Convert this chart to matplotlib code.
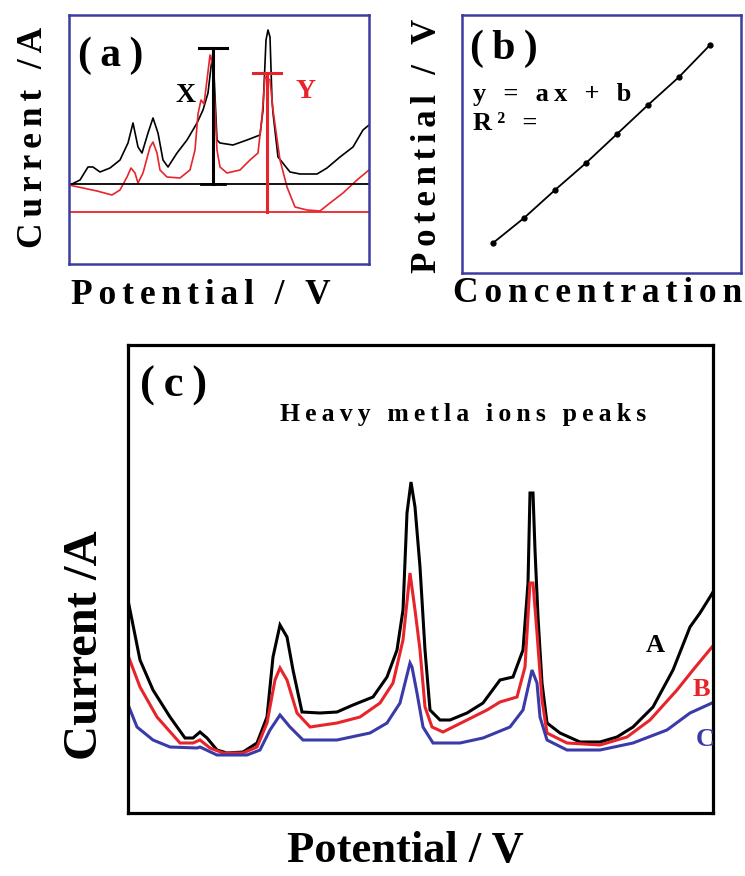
import matplotlib
matplotlib.use('Agg')
import matplotlib.pyplot as plt

# ---------------- data ----------------
# panel (a): two voltammograms, baselines and peak-height markers
a_black_x = [3, 11, 19, 24, 31, 41, 51, 59, 64, 69, 73, 79, 84, 89, 94, 99, 108, 118, 128, 134, 139, 142, 144,
             148, 151, 164, 178, 191, 194, 197, 199, 201, 203, 204, 209, 221, 231, 248, 258, 271, 284, 294, 300]
a_black_y = [80, 84, 97, 97, 92, 96, 104, 121, 141, 117, 111, 131, 146, 131, 104, 97, 111, 124, 141, 154, 171, 197, 212,
             124, 121, 119, 124, 129, 154, 224, 234, 227, 164, 151, 107, 92, 90, 90, 96, 107, 117, 134, 139]
a_red_x = [0, 14, 28, 43, 51, 58, 62, 66, 69, 74, 81, 84, 88, 91, 98, 111, 121, 126, 129, 132, 135, 138, 141, 144,
           148, 151, 158, 171, 181, 189, 193, 196, 201, 204, 211, 218, 226, 238, 251, 261, 274, 288, 300]
a_red_y = [79, 76, 73, 69, 74, 87, 96, 91, 81, 91, 117, 122, 111, 94, 87, 86, 94, 114, 150, 164, 160, 184, 209, 197,
           114, 97, 91, 94, 104, 111, 147, 187, 184, 154, 104, 77, 57, 54, 53, 61, 71, 84, 94]
a_baselines = [80, 52]          # black, red
a_peak_x = [144, 198]           # X (black), Y (red)
a_peak_top = [216, 191]

# panel (b): calibration
b_conc = [1, 2, 3, 4, 5, 6, 7, 8]
b_pot = [30, 55, 83, 110, 139, 168, 196, 228]

# panel (c): curves A, B, C
cA_x = [1, 12, 25, 42, 57, 65, 72, 79, 89, 99, 115, 129, 139, 145, 152, 159, 165, 174, 192, 209, 225, 245, 259, 269,
        275, 279, 283, 287, 292, 297, 302, 312, 322, 339, 355, 372, 385, 395, 400, 402, 405, 407, 410, 414, 419, 432,
        452, 472, 489, 505, 525, 545, 562, 572, 582, 585]
cA_y = [208, 153, 123, 96, 75, 75, 81, 75, 63, 60, 61, 70, 96, 156, 188, 176, 143, 101, 100, 101, 108, 116, 136, 163,
        203, 300, 331, 306, 246, 163, 103, 93, 93, 100, 110, 133, 136, 163, 230, 320, 320, 263, 196, 130, 90, 80,
        71, 71, 76, 86, 106, 143, 186, 200, 216, 221]
cB_x = [1, 12, 29, 52, 65, 72, 82, 95, 115, 129, 139, 147, 152, 159, 169, 182, 209, 232, 252, 265, 275, 282, 287,
        292, 297, 304, 315, 339, 359, 372, 389, 397, 402, 405, 409, 414, 419, 439, 472, 499, 522, 549, 565, 584]
cB_y = [155, 126, 96, 70, 70, 73, 65, 60, 60, 66, 90, 133, 145, 133, 100, 86, 90, 96, 110, 130, 173, 240, 203,
        163, 106, 86, 81, 93, 103, 111, 116, 146, 230, 230, 180, 113, 80, 70, 68, 76, 93, 123, 143, 166]
cC_x = [1, 9, 25, 42, 69, 72, 89, 119, 132, 142, 152, 162, 175, 209, 242, 259, 272, 282, 284, 289, 295, 305, 332,
        355, 382, 395, 404, 409, 412, 419, 439, 472, 505, 539, 562, 584]
cC_y = [106, 86, 73, 66, 65, 66, 58, 58, 63, 83, 98, 86, 73, 73, 80, 90, 110, 150, 146, 120, 86, 70, 70,
        75, 86, 103, 143, 130, 96, 73, 63, 63, 70, 83, 100, 110]
c_labels = ['A', 'B', 'C']

# ---------------- styling ----------------
W, H = 745, 876
FRAME_BLUE = '#3c3ca0'
RED = '#e8242b'
LINE_BLUE = '#3a3aa8'
SERIF = ['Liberation Serif', 'DejaVu Serif']

fig = plt.figure(figsize=(W / 100, H / 100), dpi=100)


def box(x0, y0, x1, y1):
    return [x0 / W, 1 - y1 / H, (x1 - x0) / W, (y1 - y0) / H]


def ftext(x, y, s, **kw):
    kw.setdefault('family', SERIF)
    kw.setdefault('weight', 'bold')
    fig.text(x / W, 1 - y / H, s, **kw)


def spaced(s, sp='\u2009'):
    return sp.join(s)


def style(ax, color, lw):
    ax.set_xticks([])
    ax.set_yticks([])
    for sp in ax.spines.values():
        sp.set_color(color)
        sp.set_linewidth(lw)


SIXTH = '\u2006'

# ---------------- panel (a) ----------------
axa = fig.add_axes(box(69, 15, 369, 264))
axa.set_xlim(0, 300)
axa.set_ylim(0, 249)
style(axa, FRAME_BLUE, 1.8)
axa.plot(a_black_x, a_black_y, color='black', lw=1.2)
axa.plot(a_red_x, a_red_y, color=RED, lw=1.2)
axa.axhline(a_baselines[0], color='black', lw=1.3)
axa.axhline(a_baselines[1], color=RED, lw=1.3)
for px, top, base, col in zip(a_peak_x, a_peak_top, a_baselines, ['black', RED]):
    axa.plot([px, px], [base, top], color=col, lw=2.2)
    axa.plot([px - 14, px + 14], [top, top], color=col, lw=2.2)
axa.plot([a_peak_x[0] - 12, a_peak_x[0] + 12], [a_baselines[0], a_baselines[0]], color='black', lw=2.0)
axa.text(0.03, 0.915, spaced('(a)'), transform=axa.transAxes, ha='left', va='top',
         family=SERIF, weight='bold', fontsize=30)
ftext(186, 96, 'X', ha='center', va='center', fontsize=20, color='black')
ftext(306, 91, 'Y', ha='center', va='center', fontsize=20, color=RED)

ftext(34, 137, spaced('Current /A', SIXTH), rotation=90, ha='center', va='center', fontsize=25.5)
ftext(201, 295, spaced('Potential / V', SIXTH), ha='center', va='center', fontsize=25.5)

# ---------------- panel (b) ----------------
axb = fig.add_axes(box(462, 15, 741, 273))
axb.set_xlim(0, 9)
axb.set_ylim(0, 258)
style(axb, FRAME_BLUE, 1.8)
axb.plot(b_conc, b_pot, color='black', lw=1.3, marker='o', ms=3.5)
axb.text(0.03, 0.945, spaced('(b)'), transform=axb.transAxes, ha='left', va='top',
         family=SERIF, weight='bold', fontsize=30)
ftext(473, 95, spaced('y = ax + b'), ha='left', va='center', fontsize=19)
ftext(473, 124, spaced('R\u00b2 ='), ha='left', va='center', fontsize=19)

ftext(428, 146, spaced('Potential / V', SIXTH), rotation=90, ha='center', va='center', fontsize=25)
ftext(598, 294, spaced('Concentration', SIXTH), ha='center', va='center', fontsize=25.5)

# ---------------- panel (c) ----------------
axc = fig.add_axes(box(128, 345, 713, 813))
axc.set_xlim(0, 585)
axc.set_ylim(0, 468)
style(axc, 'black', 2.3)
for xs, ys, col in [(cA_x, cA_y, 'black'), (cB_x, cB_y, RED), (cC_x, cC_y, LINE_BLUE)]:
    axc.plot(xs, ys, color=col, lw=2.2, solid_joinstyle='miter')
axc.text(0.02, 0.955, spaced('(c)'), transform=axc.transAxes, ha='left', va='top',
         family=SERIF, weight='bold', fontsize=32)
ftext(463, 414, spaced('Heavy metla ions peaks'), ha='center', va='center', fontsize=18.5)
for lab, col, (x, y) in zip(c_labels, ['black', RED, LINE_BLUE], [(655, 645), (701, 690), (705, 740)]):
    ftext(x, y, lab, ha='center', va='center', fontsize=19, color=col)

ftext(85, 645, 'Current /A', rotation=90, ha='center', va='center', fontsize=35)
ftext(405, 851, 'Potential / V', ha='center', va='center', fontsize=32)

fig.savefig('out.png', dpi=100)
